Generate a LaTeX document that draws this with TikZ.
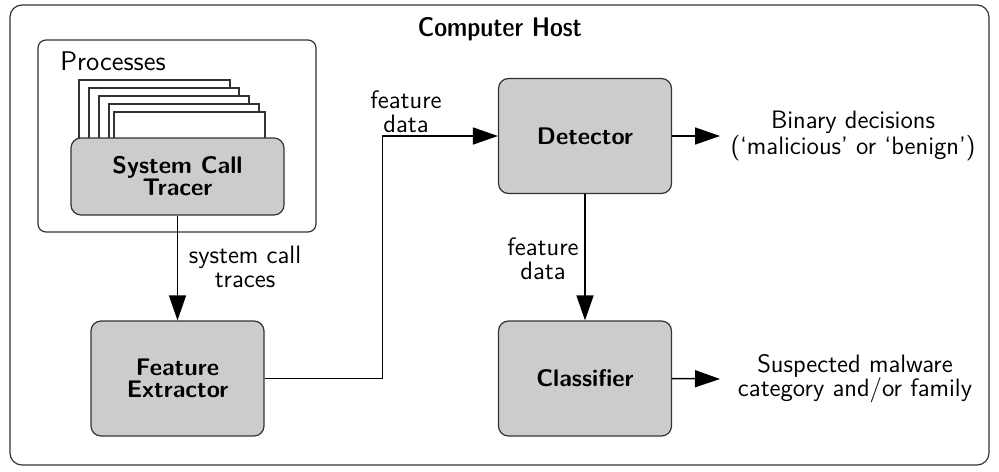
\documentclass[tikz,border=0pt]{standalone}
\usetikzlibrary{arrows.meta}
\begin{document}
\begin{tikzpicture}[x=0.5pt,y=-0.5pt,
  lbl/.style={font=\fontsize{12.6}{11.9}\selectfont\sffamily, align=center, inner sep=0pt},
  unit/.style={draw=black!80, line width=0.6pt, fill=black!20, rounded corners=5pt,
    font=\fontsize{12}{11}\selectfont\sffamily\bfseries, align=center, inner sep=0pt,
    minimum width=86.5pt, minimum height=57.5pt},
  page/.style={draw=black!80, line width=0.6pt, fill=white},
  flow/.style={draw=black, line width=0.75pt, -{Triangle[length=12.5pt,width=8.5pt]}}]
  \useasboundingbox (0,0) rectangle (999,471);
  % outer host frame
  \draw[draw=black!80, line width=0.6pt, rounded corners=6pt] (10,5) rectangle (989,465);
  \node[lbl, font=\fontsize{13.5}{13.5}\selectfont\sffamily\fontseries{sbc}\selectfont] (host) at (500,29) {Computer Host};
  % process group
  \draw[draw=black!80, line width=0.6pt, rounded corners=4pt] (38,40) rectangle (316,232);
  \node[lbl, font=\fontsize{13.5}{13.5}\selectfont\sffamily] (proc) at (113,61) {Processes};
  % stacked process pages
  \draw[page] (79,80) rectangle (230,160);
  \draw[page] (89,88) rectangle (239,160);
  \draw[page] (99,96) rectangle (249,160);
  \draw[page] (109,104) rectangle (259,160);
  \draw[page] (114,112) rectangle (265,160);
  % components
  \node[unit, minimum width=106.5pt, minimum height=38.5pt] (tracer) at (177.5,176.5) {System Call\\Tracer};
  \node[unit] (fe) at (177.5,378.5) {Feature\\Extractor};
  \node[unit] (det) at (585,136) {Detector};
  \node[unit] (cls) at (585,378.5) {Classifier};
  % outputs
  \node[lbl] (bin) at (853,136) {Binary decisions\\(`malicious' or `benign')};
  \node[lbl] (sus) at (855,379) {Suspected malware\\category and/or family};
  % connector labels
  \node[lbl] (l1) at (245,267) {system call\\traces};
  \node[lbl] (l2) at (406,112) {feature\\data};
  \node[lbl] (l3) at (543,259) {feature\\data};
  % connectors
  \draw[flow] (tracer.south) -- (fe.north);
  \draw[flow] (fe.east) -- ++(118,0) |- (det.west);
  \draw[flow] (det.south) -- (cls.north);
  \draw[flow] (det.east) -- (bin.west -| 720,0);
  \draw[flow] (cls.east) -- (sus.west -| 720,0);
\end{tikzpicture}
\end{document}
